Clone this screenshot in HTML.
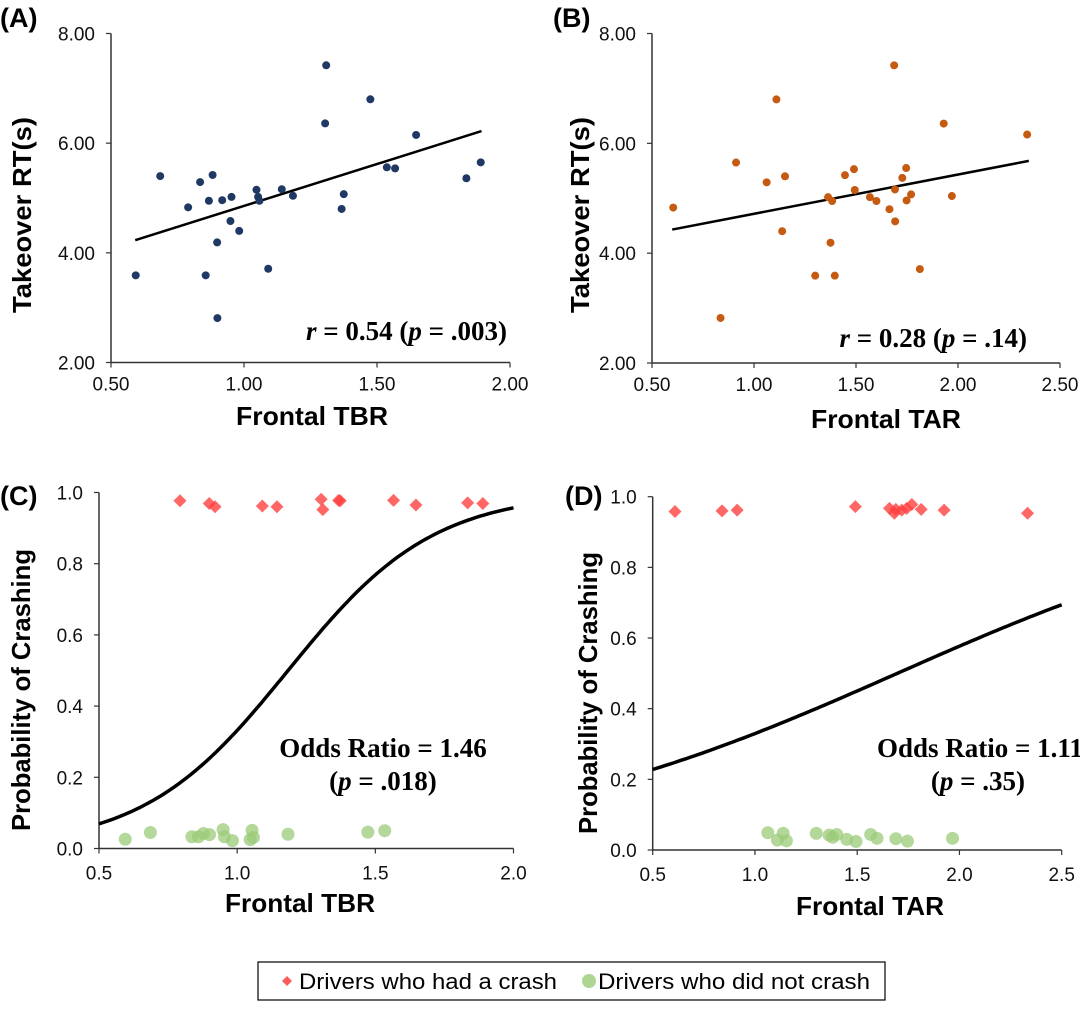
<!DOCTYPE html>
<html><head><meta charset="utf-8"><style>
body{margin:0;background:#fff;}
svg{display:block;font-family:"Liberation Sans",Arial,sans-serif;}
.tk{font-size:19px;fill:#111;}
.at{font-size:26px;font-weight:bold;fill:#000;}
.pl{font-size:27px;font-weight:bold;fill:#000;}
.an{font-family:"Liberation Serif",serif;font-size:27px;font-weight:bold;fill:#000;}
</style></head><body>
<svg id="fig" width="1080" height="1012" viewBox="0 0 1080 1012"></svg>
<script>
// Panel A data: Frontal TBR vs Takeover RT
const aX=[0.593,0.685,0.79,0.835,0.882,0.868,0.918,0.953,0.899,0.856,0.9,0.949,0.982,1.047,1.053,1.058,1.091,1.142,1.184,1.309,1.305,1.367,1.375,1.475,1.537,1.568,1.647,1.836,1.89];
const aY=[3.59,5.40,4.83,5.29,5.42,4.95,4.96,5.02,4.19,3.59,2.81,4.58,4.40,5.15,5.02,4.95,3.71,5.16,5.04,7.42,6.36,4.80,5.07,6.80,5.56,5.54,6.15,5.36,5.65];
const aFit=[0.591,4.23,1.893,6.22];
// Panel B data: Frontal TAR vs Takeover RT
const bX=[0.604,0.836,0.912,1.062,1.11,1.152,1.138,1.30,1.363,1.383,1.375,1.396,1.446,1.49,1.494,1.568,1.6,1.664,1.687,1.691,1.692,1.727,1.746,1.748,1.77,1.813,1.93,1.97,2.339];
const bY=[4.83,2.82,5.65,5.29,6.80,5.40,4.40,3.59,5.02,4.95,4.19,3.59,5.42,5.53,5.15,5.02,4.95,4.80,7.42,5.16,4.58,5.37,5.55,4.96,5.07,3.71,6.36,5.04,6.16];
const bFit=[0.599,4.43,2.347,5.68];
const yTicksAB=[2,4,6,8];
const xTicksA=[0.5,1.0,1.5,2.0];
const xTicksB=[0.5,1.0,1.5,2.0,2.5];
// Panel C
const cCrashX=[0.793,0.899,0.92,1.091,1.144,1.304,1.31,1.367,1.373,1.566,1.647,1.834,1.889];
const cCrashY=[0.977,0.969,0.96,0.962,0.96,0.981,0.952,0.978,0.977,0.978,0.965,0.971,0.969];
const cSafeX=[0.595,0.686,0.836,0.86,0.878,0.9,0.949,0.954,0.983,1.054,1.047,1.059,1.184,1.473,1.534];
const cSafeY=[0.026,0.045,0.033,0.033,0.042,0.039,0.053,0.033,0.022,0.051,0.025,0.031,0.04,0.046,0.05];
const cLogit=[-4.5,3.8];
// Panel D
const dCrashX=[0.609,0.839,0.913,1.491,1.658,1.682,1.689,1.718,1.742,1.767,1.813,1.925,2.333];
const dCrashY=[0.958,0.96,0.962,0.972,0.967,0.953,0.964,0.962,0.967,0.978,0.964,0.962,0.953];
const dSafeX=[1.063,1.11,1.138,1.154,1.30,1.363,1.38,1.40,1.449,1.494,1.566,1.597,1.689,1.746,1.966];
const dSafeY=[0.049,0.028,0.047,0.026,0.047,0.042,0.036,0.044,0.03,0.024,0.044,0.033,0.032,0.025,0.033];
const dLogit=[-1.73,1.02];
const yTicksCD=[0,0.2,0.4,0.6,0.8,1.0];
const xTicksC=[0.5,1.0,1.5,2.0];
const xTicksD=[0.5,1.0,1.5,2.0,2.5];

const NS="http://www.w3.org/2000/svg";
const svg=document.getElementById('fig');
function mk(tag,attrs,parent,text){const e=document.createElementNS(NS,tag);for(const k in attrs)e.setAttribute(k,attrs[k]);if(text!==undefined)e.textContent=text;(parent||svg).appendChild(e);return e;}
function lin(d0,d1,r0,r1){return v=>r0+(v-d0)/(d1-d0)*(r1-r0);}

function axes(g,sx,sy,xt,yt,x0,y0,x1,y1,xdec,ydec,xoff){
  const ax=mk('line',{x1:x0,y1:y0,x2:x0,y2:y1,stroke:'#333','stroke-width':1.5},g);
  
  const bx=mk('line',{x1:x0,y1:y0,x2:x1,y2:y0,stroke:'#333','stroke-width':1.5},g);
  
  yt.forEach(v=>{const y=sy(v);mk('line',{x1:x0-5,y1:y,x2:x0,y2:y,stroke:'#333','stroke-width':1.2},g);
    const t=mk('text',{x:x0-16,y:y+7,'text-anchor':'end',class:'tk'},g,v.toFixed(ydec));
    });
  xt.forEach(v=>{const x=sx(v);mk('line',{x1:x,y1:y0,x2:x,y2:y0+5,stroke:'#333','stroke-width':1.2},g);
    const t=mk('text',{x:x,y:y0+xoff,'text-anchor':'middle',class:'tk'},g,v.toFixed(xdec));
    });
}
function line(g,sx,sy,f,name){
  const p=mk('line',{x1:sx(f[0]),y1:sy(f[1]),x2:sx(f[2]),y2:sy(f[3]),stroke:'#000','stroke-width':2.5},g);
  
}
function dots(g,sx,sy,X,Y,col,name){
  X.forEach((v,i)=>{const c=mk('circle',{cx:sx(v),cy:sy(Y[i]),r:4,fill:col},g);
    });
}
function diamonds(g,sx,sy,X,Y){
  X.forEach((v,i)=>{const x=sx(v),y=sy(Y[i]),s=6.5;
    const p=mk('polygon',{points:`${x},${y-s} ${x+s},${y} ${x},${y+s} ${x-s},${y}`,fill:'#ff4040','fill-opacity':0.8},g);
    });
}
function greens(g,sx,sy,X,Y){
  X.forEach((v,i)=>{const c=mk('circle',{cx:sx(v),cy:sy(Y[i]),r:6.5,fill:'#9bcb78','fill-opacity':0.75},g);
    });
}
function curve(g,sx,sy,co,x0,x1,name){
  let d='';for(let i=0;i<=100;i++){const x=x0+(x1-x0)*i/100;const p=1/(1+Math.exp(-(co[0]+co[1]*x)));d+=(i?'L':'M')+sx(x).toFixed(1)+','+sy(p).toFixed(1);}
  const e=mk('path',{d:d,fill:'none',stroke:'#000','stroke-width':3.5},g);
  
}
function txt(x,y,cls,s,name,anchor,rot,len){
  const t=mk('text',{x:x,y:y,class:cls,'text-anchor':anchor||'middle'});
  if(rot)t.setAttribute('transform',`rotate(-90 ${x} ${y})`);
  if(len){t.setAttribute('textLength',len);t.setAttribute('lengthAdjust','spacingAndGlyphs');}
  t.innerHTML=s;return t;
}

// Panel A
let g=mk('g',{});
let sx=lin(0.5,2.0,111,510),sy=lin(2,8,362.5,33.5);
axes(g,sx,sy,xTicksA,yTicksAB,111,362.5,510,33.5,2,2,28);
line(g,sx,sy,aFit,'trend-line-a');dots(g,sx,sy,aX,aY,'#1f3864','data-point-a');
// Panel B
g=mk('g',{});
sx=lin(0.5,2.5,652,1060);sy=lin(2,8,363,33.5);
axes(g,sx,sy,xTicksB,yTicksAB,652,363,1060,33.5,2,2,28);
line(g,sx,sy,bFit,'trend-line-b');dots(g,sx,sy,bX,bY,'#c55a11','data-point-b');
// Panel C
g=mk('g',{});
sx=lin(0.5,2.0,99,513.5);sy=lin(0,1,848.5,492.5);
axes(g,sx,sy,xTicksC,yTicksCD,99,848.5,513.5,492.5,1,1,31);
diamonds(g,sx,sy,cCrashX,cCrashY);greens(g,sx,sy,cSafeX,cSafeY);
curve(g,sx,sy,cLogit,0.5,2.0,'logistic-curve-c');
// Panel D
g=mk('g',{});
sx=lin(0.5,2.5,652.7,1061.7);sy=lin(0,1,850,496.7);
axes(g,sx,sy,xTicksD,yTicksCD,652.7,850,1061.7,496.7,1,1,31);
diamonds(g,sx,sy,dCrashX,dCrashY);greens(g,sx,sy,dSafeX,dSafeY);
curve(g,sx,sy,dLogit,0.5,2.5,'logistic-curve-d');

// Labels
txt(0,27,'pl','(A)','panel-label-a','start');
txt(553,27,'pl','(B)','panel-label-b','start');
txt(0,505,'pl','(C)','panel-label-c','start');
txt(565,505,'pl','(D)','panel-label-d','start');
txt(31,215,'at','Takeover RT(s)','y-axis-title-a','middle',true,196);
txt(589,215,'at','Takeover RT(s)','y-axis-title-b','middle',true,196);
txt(312,425,'at','Frontal TBR','x-axis-title-a','middle',false,152);
txt(886,428,'at','Frontal TAR','x-axis-title-b','middle',false,150);
txt(30,690,'at','Probability of Crashing','y-axis-title-c','middle',true,282);
txt(597,693,'at','Probability of Crashing','y-axis-title-d','middle',true,282);
txt(300,912,'at','Frontal TBR','x-axis-title-c','middle',false,150);
txt(870,915,'at','Frontal TAR','x-axis-title-d','middle',false,148);
txt(507,340,'an','<tspan font-style="italic">r</tspan> = 0.54 (<tspan font-style="italic">p</tspan> = .003)','correlation-annotation-a','end');
txt(1027,347,'an','<tspan font-style="italic">r</tspan> = 0.28 (<tspan font-style="italic">p</tspan> = .14)','correlation-annotation-b','end');
txt(383,757,'an','Odds Ratio = 1.46','odds-ratio-annotation-c');
txt(383,790,'an','(<tspan font-style="italic">p</tspan> = .018)','p-value-annotation-c');
txt(877,757,'an','Odds Ratio = 1.11','odds-ratio-annotation-d','start');
txt(978,790,'an','(<tspan font-style="italic">p</tspan> = .35)','p-value-annotation-d');

// Legend
const lg=mk('g',{});
mk('rect',{x:258,y:962,width:627,height:38,fill:'#fff',stroke:'#000','stroke-width':1.2},lg);
const ld=mk('polygon',{points:'287,976 292,981 287,986 282,981',fill:'#ff4040','fill-opacity':0.85},lg);

const lt1=mk('text',{x:299,y:989,style:'font-size:22px',fill:'#000',textLength:258,lengthAdjust:'spacingAndGlyphs'},lg,'Drivers who had a crash');

const lc=mk('circle',{cx:589,cy:981,r:7,fill:'#9bcb78','fill-opacity':0.8},lg);

const lt2=mk('text',{x:598,y:989,style:'font-size:22px',fill:'#000',textLength:272,lengthAdjust:'spacingAndGlyphs'},lg,'Drivers who did not crash');

</script>
</body></html>
